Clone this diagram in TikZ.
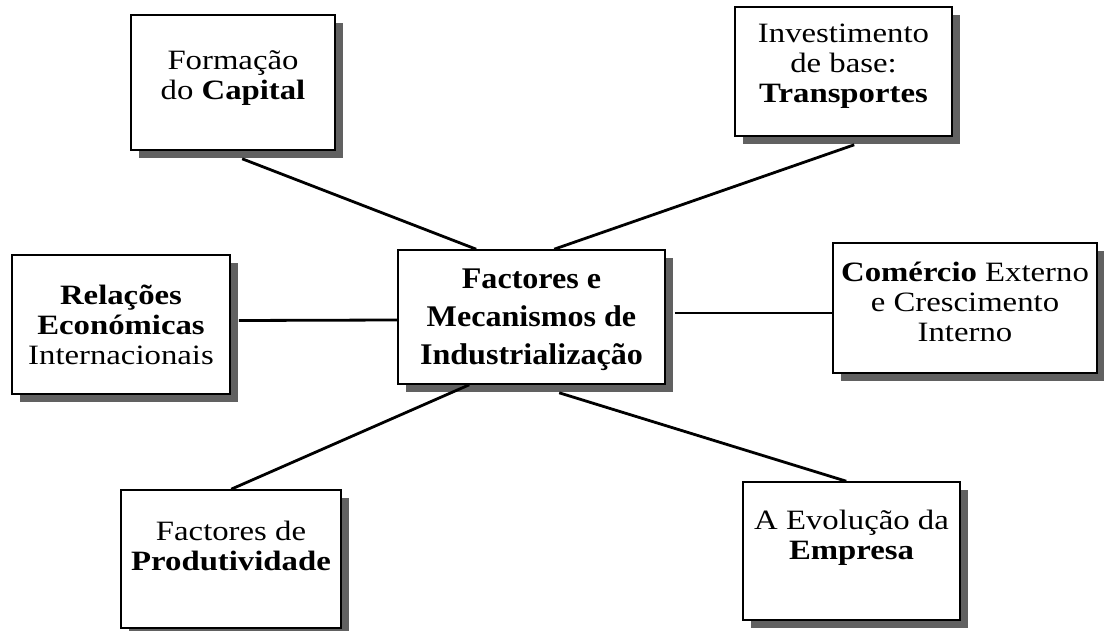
\documentclass[tikz,border=0pt]{standalone}
\usepackage{fontspec}
\setmainfont{Liberation Serif}[FakeStretch=1.17]
\newfontfamily\ctrfont{Liberation Serif}[FakeStretch=1.07]
\usetikzlibrary{shadows,calc}
\tikzset{
  box/.style={draw=black, line width=1.6pt, fill=white, align=center, inner sep=0pt,
    font=\fontsize{28}{30}\selectfont,
    drop shadow={shadow xshift=8pt, shadow yshift=-8pt, fill=black!62, opacity=1}},
  bigbox/.style={box, font=\ctrfont\fontsize{30}{38}\selectfont\bfseries},
  txt/.style={align=center, inner sep=0pt, font=\fontsize{28}{30}\selectfont},
  link/.style={line width=2.8pt, black}
}
\begin{document}
\begin{tikzpicture}[x=1pt,y=-1pt]
\useasboundingbox (0,0) rectangle (1104,631);
\node[box, minimum width=204pt, minimum height=135pt] (cap) at (233,82.5) {};
\node[txt] (capT) at (233,78) {Formação\\do \textbf{Capital}};
\node[box, minimum width=217pt, minimum height=129pt] (tra) at (843.5,71.5) {};
\node[txt] (traT) at (843.5,66) {Investimento\\de base:\\\textbf{Transportes}};
\node[box, minimum width=218pt, minimum height=139pt] (rel) at (121,324.5) {\textbf{Relações}\\\textbf{Económicas}\\Internacionais};
\node[bigbox, minimum width=267pt, minimum height=134pt] (ctr) at (531.5,317) {};
\node[txt, font=\ctrfont\fontsize{30}{38}\selectfont\bfseries] (ctrT) at (531.5,320) {Factores e\\Mecanismos de\\Industrialização};
\node[box, minimum width=264pt, minimum height=130pt] (com) at (965,308) {};
\node[txt] (comT) at (965,302) {\textbf{Comércio} Externo\\e Crescimento\\Interno};
\node[box, minimum width=220pt, minimum height=138pt] (pro) at (231,559) {};
\node[txt] (proT) at (231,546) {Factores de\\\textbf{Produtividade}};
\node[box, minimum width=217pt, minimum height=138pt] (emp) at (851.5,551) {};
\node[txt] (empT) at (851.5,538) {A Evolução da\\\textbf{Empresa}};
\coordinate (capA) at ($(cap.south west)+(112,8)$);
\coordinate (ctrA) at ($(ctr.north west)+(79,0)$);
\coordinate (traA) at ($(tra.south west)+(120,8)$);
\coordinate (ctrB) at ($(ctr.north west)+(157,0)$);
\coordinate (relA) at ($(rel.east)+(8,-4)$);
\coordinate (ctrC) at ($(ctr.west)+(0,3)$);
\coordinate (ctrD) at ($(ctr.east)+(9,-4)$);
\coordinate (comA) at ($(com.west)+(0,5)$);
\coordinate (ctrE) at ($(ctr.south west)+(72,0)$);
\coordinate (proA) at ($(pro.north west)+(111,0)$);
\coordinate (ctrF) at ($(ctr.south west)+(162,8)$);
\coordinate (empA) at ($(emp.north west)+(104,0)$);
\draw[link] (capA) -- (ctrA);
\draw[link] (traA) -- (ctrB);
\draw[link] (relA) -- (ctrC);
\draw[link] (ctrD) -- (comA);
\draw[link] (ctrE) -- (proA);
\draw[link] (ctrF) -- (empA);
\end{tikzpicture}
\end{document}
